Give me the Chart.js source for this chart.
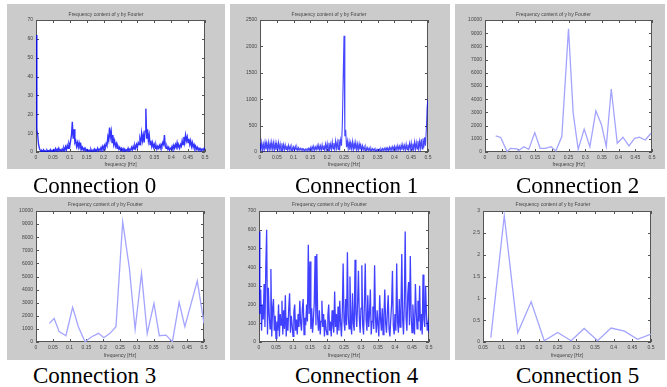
<!DOCTYPE html>
<html>
<head>
<meta charset="utf-8">
<script src="https://cdn.jsdelivr.net/npm/chart.js@4/dist/chart.umd.min.js"></script>
<style>
  body { margin: 0; background: #fff; width: 667px; height: 387px; position: relative; overflow: hidden; }
  .panel { position: absolute; }
  .cap { position: absolute; font-family: "Liberation Serif", "Times New Roman", serif; font-size: 23px; line-height: 23px; color: #000; white-space: nowrap; }
</style>
</head>
<body>
<div class="panel" id="p0"><canvas id="c0"></canvas></div>
<div class="panel" id="p1"><canvas id="c1"></canvas></div>
<div class="panel" id="p2"><canvas id="c2"></canvas></div>
<div class="panel" id="p3"><canvas id="c3"></canvas></div>
<div class="panel" id="p4"><canvas id="c4"></canvas></div>
<div class="panel" id="p5"><canvas id="c5"></canvas></div>
<div class="cap" style="left:33px;top:174px">Connection 0</div>
<div class="cap" style="left:295px;top:174px">Connection 1</div>
<div class="cap" style="left:516px;top:174px">Connection 2</div>
<div class="cap" style="left:33px;top:364px">Connection 3</div>
<div class="cap" style="left:295px;top:364px">Connection 4</div>
<div class="cap" style="left:516px;top:364px">Connection 5</div>
<script>
// ---- data ----
var titleText = 'Frequency content of y by Fourier';
var xTitle = 'frequency [Hz]';

var freqTicks = [0, 0.05, 0.1, 0.15, 0.2, 0.25, 0.3, 0.35, 0.4, 0.45, 0.5];
var freqTicks5 = [0.05, 0.1, 0.15, 0.2, 0.25, 0.3, 0.35, 0.4, 0.45, 0.5];
var yTicks0 = [0, 10, 20, 30, 40, 50, 60, 70];
var yTicks1 = [0, 500, 1000, 1500, 2000, 2500];
var yTicks23 = [0, 1000, 2000, 3000, 4000, 5000, 6000, 7000, 8000, 9000, 10000];
var yTicks4 = [0, 100, 200, 300, 400, 500, 600, 700];
var yTicks5 = [0, 0.5, 1, 1.5, 2, 2.5, 3];

// dense spectra, one value per bin from 0 to 0.5 Hz
var conn0 = [
  62, 12, 9, 4, 2, 1, 0.3, 0.8, 0.2, 1.2,
  0.4, 0.6, 0.2, 1, 0.3, 0.7, 0.5, 1.3, 0.2, 0.9,
  0.4, 1.1, 0.3, 1.8, 0.6, 1.5, 0.4, 2, 0.8, 1.2,
  0.5, 1.6, 0.7, 2.2, 1, 2.8, 1.2, 3.5, 2, 4.5,
  3, 6, 9, 16, 7, 12, 5, 6, 3, 5,
  2.5, 5, 3, 4, 1.5, 2.5, 1, 2, 0.8, 1.5,
  0.6, 1.2, 0.4, 1, 0.5, 1.4, 0.3, 0.9, 0.6, 1.6,
  0.4, 1.2, 0.8, 2, 0.6, 1.5, 1, 2.4, 1.2, 3,
  1.5, 3.5, 2, 4.5, 3.5, 8, 6, 13, 8, 11,
  5, 9, 4, 6, 3, 4.5, 2, 3, 1.5, 2.5,
  1, 2, 0.8, 1.8, 0.6, 1.5, 0.5, 1.2, 0.8, 2,
  0.6, 1.4, 1, 2.4, 1.2, 3, 1.5, 3.5, 2, 4,
  2.5, 5, 4, 7, 5, 10, 6, 9, 5, 11,
  23, 7, 12, 6, 9, 4, 6, 3, 5, 2.5,
  4, 2, 3.5, 1.5, 3, 2, 3.5, 2, 4, 3,
  5, 4, 9, 3, 2, 3, 1.5, 2.5, 1, 2,
  1.5, 3, 1.2, 3.5, 2, 4, 2.5, 5, 2.5, 3.5,
  2, 4, 3, 6, 4, 8, 5, 9, 6, 8,
  5, 7, 4, 6, 3, 5, 2.5, 4, 2, 3,
  1.5, 2.5, 1, 2, 1.2, 1.8, 0.8, 1.5, 1, 2, 1.2
];
var conn1 = [
  160, 20, 180, 40, 150, 30, 185, 50, 170, 25,
  180, 45, 165, 30, 185, 55, 175, 20, 170, 40,
  160, 30, 175, 50, 150, 25, 165, 45, 140, 30,
  135, 50, 120, 25, 125, 45, 110, 30, 100, 40,
  95, 30, 105, 45, 90, 25, 80, 40, 70, 30,
  65, 35, 60, 20, 55, 30, 60, 25, 70, 35,
  85, 30, 100, 40, 110, 30, 95, 45, 120, 35,
  130, 40, 115, 30, 140, 50, 125, 35, 150, 45,
  160, 30, 175, 55, 150, 40, 190, 60, 170, 45,
  210, 70, 190, 50, 240, 80, 230, 120, 500, 1370,
  2200, 300, 420, 90, 210, 60, 190, 40, 170, 60,
  200, 35, 165, 50, 180, 40, 150, 30, 155, 45,
  130, 35, 120, 40, 100, 30, 95, 35, 80, 25,
  75, 30, 70, 25, 65, 30, 60, 20, 55, 25,
  50, 20, 55, 25, 60, 20, 65, 30, 70, 25,
  80, 30, 75, 20, 90, 35, 85, 30, 100, 40,
  110, 35, 100, 30, 120, 45, 110, 35, 130, 40,
  140, 50, 125, 35, 150, 45, 140, 40, 165, 55,
  175, 40, 160, 55, 190, 45, 180, 60, 210, 50,
  200, 70, 240, 60, 260, 80, 280, 120, 420, 850, 1000
];
var conn4 = [
  590, 150, 280, 60, 200, 120, 310, 80, 400, 600,
  40, 290, 150, 70, 390, 30, 180, 230, 60, 140,
  20, 110, 60, 200, 30, 150, 90, 220, 40, 170,
  70, 250, 30, 130, 60, 180, 260, 50, 140, 90,
  30, 160, 200, 60, 120, 40, 150, 80, 220, 100,
  60, 180, 230, 40, 130, 90, 200, 110, 520, 150,
  430, 70, 180, 50, 120, 210, 460, 90, 470, 130,
  60, 170, 40, 110, 220, 80, 150, 30, 120, 70,
  40, 140, 200, 60, 110, 30, 170, 90, 50, 270,
  80, 150, 40, 190, 60, 220, 100, 30, 160, 420,
  110, 60, 230, 90, 480, 140, 70, 350, 120, 40,
  260, 100, 60, 440, 150, 80, 210, 380, 130, 50,
  180, 410, 90, 40, 200, 420, 120, 60, 250, 80,
  150, 280, 40, 110, 190, 70, 410, 130, 50, 170,
  90, 30, 250, 120, 60, 180, 40, 140, 280, 100,
  50, 160, 250, 70, 30, 120, 200, 380, 90, 40,
  150, 60, 420, 110, 50, 230, 80, 170, 470, 120,
  40, 210, 590, 130, 60, 250, 320, 90, 460, 140,
  50, 200, 100, 40, 310, 160, 70, 220, 110, 300,
  60, 150, 40, 360, 120, 80, 300, 150, 60, 100,
  50
];

// sparse spectra (frequency, magnitude)
var conn2Freq = [0.032, 0.047, 0.066, 0.076, 0.096, 0.101, 0.116, 0.131, 0.149, 0.165, 0.18, 0.198, 0.212, 0.23, 0.25, 0.264, 0.279, 0.297, 0.314, 0.332, 0.349, 0.363, 0.378, 0.396, 0.413, 0.431, 0.448, 0.462, 0.48, 0.497];
var conn2Mag  = [1220, 1100, 30, 280, 230, 100, 400, 200, 1470, 280, 280, 400, 80, 1170, 9340, 2950, 200, 1730, 400, 3120, 2050, 400, 4770, 660, 1120, 460, 1040, 1120, 910, 1420];
var conn3Freq = [0.04, 0.054, 0.069, 0.089, 0.109, 0.126, 0.146, 0.166, 0.186, 0.202, 0.22, 0.238, 0.258, 0.278, 0.295, 0.314, 0.331, 0.351, 0.367, 0.387, 0.406, 0.426, 0.443, 0.48, 0.5];
var conn3Mag  = [1420, 1800, 790, 480, 2650, 1170, 25, 400, 660, 330, 660, 1170, 9180, 5620, 970, 5240, 640, 2950, 480, 530, 25, 3030, 1170, 4660, 1420];
var conn5Freq = [0.071, 0.107, 0.143, 0.179, 0.214, 0.25, 0.286, 0.321, 0.357, 0.393, 0.429, 0.464, 0.5];
var conn5Mag  = [0.1, 2.89, 0.21, 0.92, 0.03, 0.22, 0.03, 0.31, 0.03, 0.32, 0.25, 0.06, 0.18];

// ---- helpers ----
function binPoints(vals, fmax) {
  return vals.map(function (v, i) { return { x: i * fmax / (vals.length - 1), y: v }; });
}
function pairPoints(xs, ys) {
  return xs.map(function (x, i) { return { x: x, y: ys[i] }; });
}

// gray figure, white axes, box with inward ticks (MATLAB look)
var matlabFrame = {
  id: 'matlabFrame',
  beforeDraw: function (chart) {
    var ctx = chart.ctx, a = chart.chartArea;
    ctx.save();
    ctx.fillStyle = '#cbcbcb';
    ctx.fillRect(0, 0, chart.width, chart.height);
    ctx.fillStyle = '#ffffff';
    ctx.fillRect(a.left, a.top, a.right - a.left, a.bottom - a.top);
    ctx.restore();
  },
  beforeDatasetsDraw: function (chart) {
    var ctx = chart.ctx, a = chart.chartArea;
    var xs = chart.scales.x, ys = chart.scales.y;
    ctx.save();
    ctx.strokeStyle = '#555';
    ctx.lineWidth = 1;
    ctx.strokeRect(Math.round(a.left) + 0.5, Math.round(a.top) + 0.5,
      Math.round(a.right - a.left) - 1, Math.round(a.bottom - a.top) - 1);
    ctx.beginPath();
    xs.ticks.forEach(function (t) {
      var px = Math.round(xs.getPixelForValue(t.value)) + 0.5;
      ctx.moveTo(px, a.bottom); ctx.lineTo(px, a.bottom - 3);
      ctx.moveTo(px, a.top); ctx.lineTo(px, a.top + 3);
    });
    ys.ticks.forEach(function (t) {
      var py = Math.round(ys.getPixelForValue(t.value)) + 0.5;
      ctx.moveTo(a.left, py); ctx.lineTo(a.left + 3, py);
      ctx.moveTo(a.right, py); ctx.lineTo(a.right - 3, py);
    });
    ctx.stroke();
    ctx.restore();
  }
};

var panels = [
  { id: 0, box: [7, 4, 218, 165], yw: 29, right: 20, xh: 17, tpad: [8, 2], pts: binPoints(conn0, 0.5), xt: freqTicks, yt: yTicks0, color: 'rgba(0,0,255,0.8)', lw: 1.4 },
  { id: 1, box: [230, 4, 220, 165], yw: 30, right: 22, xh: 17, tpad: [8, 2], pts: binPoints(conn1, 0.5), xt: freqTicks, yt: yTicks1, color: 'rgba(0,0,255,0.72)', lw: 1.1 },
  { id: 2, box: [455, 4, 210, 165], yw: 30, right: 13, xh: 17, tpad: [8, 2], pts: pairPoints(conn2Freq, conn2Mag), xt: freqTicks, yt: yTicks23, color: '#a4a4ff', lw: 1.3 },
  { id: 3, box: [7, 197, 218, 163], yw: 29, right: 21, xh: 18, tpad: [5, 3], pts: pairPoints(conn3Freq, conn3Mag), xt: freqTicks, yt: yTicks23, color: '#a4a4ff', lw: 1.3 },
  { id: 4, box: [230, 197, 220, 163], yw: 29, right: 21, xh: 18, tpad: [5, 3], pts: binPoints(conn4, 0.5), xt: freqTicks, yt: yTicks4, color: 'rgba(0,0,255,0.75)', lw: 1.3 },
  { id: 5, box: [455, 197, 210, 163], yw: 28, right: 14, xh: 18, tpad: [5, 3], pts: pairPoints(conn5Freq, conn5Mag), xt: freqTicks5, yt: yTicks5, color: '#a4a4ff', lw: 1.3 }
];

Chart.defaults.font.family = 'Arial, "Liberation Sans", sans-serif';

panels.forEach(function (p) {
  var holder = document.getElementById('p' + p.id);
  holder.style.left = p.box[0] + 'px';
  holder.style.top = p.box[1] + 'px';
  var canvas = document.getElementById('c' + p.id);
  canvas.width = p.box[2];
  canvas.height = p.box[3];
  canvas.style.width = p.box[2] + 'px';
  canvas.style.height = p.box[3] + 'px';

  var xt = p.xt, yt = p.yt;
  new Chart(canvas.getContext('2d'), {
    type: 'line',
    data: {
      datasets: [{
        data: p.pts,
        borderColor: p.color,
        borderWidth: p.lw,
        pointRadius: 0,
        tension: 0,
        fill: false
      }]
    },
    options: {
      responsive: false,
      animation: false,
      events: [],
      layout: { padding: { left: 0, right: p.right, top: 0, bottom: 0 } },
      plugins: {
        legend: { display: false },
        tooltip: { enabled: false },
        title: {
          display: true,
          text: titleText,
          color: '#444',
          font: { size: 5, weight: 'normal' },
          padding: { top: p.tpad[0], bottom: p.tpad[1] }
        }
      },
      scales: {
        x: {
          type: 'linear',
          min: xt[0],
          max: xt[xt.length - 1],
          afterBuildTicks: function (s) { s.ticks = xt.map(function (v) { return { value: v }; }); },
          afterFit: function (s) { s.height = p.xh; },
          grid: { display: false, drawTicks: false },
          border: { display: false },
          ticks: {
            autoSkip: false, maxRotation: 0, padding: 3,
            color: '#444', font: { size: 5 },
            callback: function (v) { return String(v); }
          },
          title: { display: true, text: xTitle, color: '#444', font: { size: 5 }, padding: { top: 0, bottom: 1 } }
        },
        y: {
          type: 'linear',
          min: yt[0],
          max: yt[yt.length - 1],
          afterBuildTicks: function (s) { s.ticks = yt.map(function (v) { return { value: v }; }); },
          afterFit: function (s) { s.width = p.yw; },
          grid: { display: false, drawTicks: false },
          border: { display: false },
          ticks: {
            padding: 3, color: '#444', font: { size: 5 },
            callback: function (v) { return String(v); }
          }
        }
      }
    },
    plugins: [matlabFrame]
  });
});
</script>
</body>
</html>
